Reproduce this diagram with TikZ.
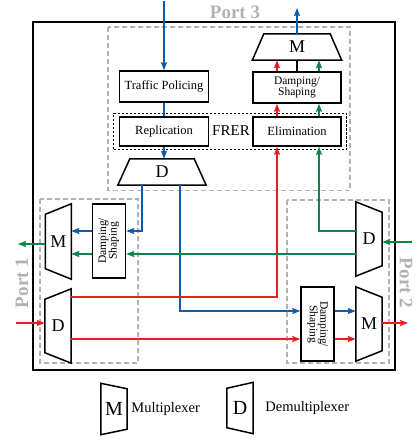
\documentclass[tikz,border=0pt]{standalone}
\usepackage{fontspec}
\setmainfont{Liberation Serif}
\usetikzlibrary{arrows.meta,positioning,fit,calc}

\definecolor{fred}{RGB}{232,30,38}
\definecolor{fblue}{RGB}{18,92,166}
\definecolor{fgreen}{RGB}{12,134,70}
\definecolor{pgray}{RGB}{178,178,178}

\newcommand{\fsz}[1]{\fontsize{#1}{#1}\selectfont}
\newcommand{\dstext}{\begin{tabular}{@{}c@{}}Damping/\\[-1pt]Shaping\end{tabular}}
% trapezoid outlines over a named node
\newcommand{\trapup}[2]{\draw[trap] (#1.south west) -- (#1.south east) -- ([xshift=-#2]#1.north east) -- ([xshift=#2]#1.north west) -- cycle;}
\newcommand{\trapright}[2]{\draw[trap] (#1.north east) -- (#1.south east) -- ([yshift=#2]#1.south west) -- ([yshift=-#2]#1.north west) -- cycle;}
\newcommand{\trapleft}[2]{\draw[trap] (#1.north west) -- (#1.south west) -- ([yshift=#2]#1.south east) -- ([yshift=-#2]#1.north east) -- cycle;}

\begin{document}
\begin{tikzpicture}[
  x=1pt, y=-1pt,
  blk/.style={draw, line width=1.5pt, inner sep=0pt, align=center, font=\fsz{12.5}},
  dsbox/.style={draw, line width=1.5pt, inner sep=0pt, minimum width=33pt, minimum height=74pt, font=\fsz{11.5}},
  letter/.style={inner sep=0pt, font=\fsz{18}},
  trap/.style={line width=1.5pt, line join=miter},
  arr/.style={line width=1.4pt, -{Stealth[length=8pt,width=6pt,inset=1pt]}},
  lne/.style={line width=1.4pt},
  portbox/.style={draw=pgray, line width=1.3pt, dash pattern=on 5pt off 3pt},
  plabel/.style={text=pgray, font=\fsz{19}\bfseries, inner sep=0pt}
]
\useasboundingbox (0,0) rectangle (415,441);

\draw[line width=1.6pt] (33,22) rectangle (395,370);
\draw[portbox] (108,27) rectangle (350,190.5);
\draw[portbox] (40,199) rectangle (138,363);
\draw[portbox] (287,200) rectangle (389,363);

\node[plabel] (p3) at (235,12) {Port 3};
\node[plabel, rotate=90] (p1) at (22,283) {Port 1};
\node[plabel, rotate=-90] (p2) at (406,283) {Port 2};

% port 3
\node[blk, minimum width=89pt, minimum height=31pt] (tp) at (164,86.5) {Traffic Policing};
\node[blk, minimum width=89pt, minimum height=29pt] (rep) at (164,131.5) {Replication};
\node[blk, minimum width=88pt, minimum height=29pt] (eli) at (297,131.5) {Elimination};
\node[blk, minimum width=88pt, minimum height=31pt, font=\fsz{11.5}] (ds3) at (297,87.5) {\dstext};
\node[draw, line width=0.9pt, dash pattern=on 2.5pt off 1.5pt, fit=(rep)(eli), inner xsep=5pt, inner ysep=3pt] (frer) {};
\node[font=\fsz{15}, inner sep=0pt] (frerl) at (231,131) {FRER};
\node[letter, minimum width=89pt, minimum height=26pt] (mux3) at (297,47) {M};
\trapup{mux3}{11.5pt}
\node[letter, minimum width=88pt, minimum height=26pt] (dmx3) at (162,172) {D};
\trapup{dmx3}{12pt}

% port 1
\node[letter, minimum width=25.5pt, minimum height=75pt] (mux1) at (58.3,241.5) {M};
\trapright{mux1}{10.5pt}
\node[letter, minimum width=26pt, minimum height=74pt] (dmx1) at (58,326) {D};
\trapright{dmx1}{10.5pt}
\node[dsbox] (ds1) at (109,241) {\rotatebox{90}{\dstext}};

% port 2
\node[letter, minimum width=26pt, minimum height=74pt] (dmx2) at (369,239) {D};
\trapleft{dmx2}{10.5pt}
\node[letter, minimum width=26pt, minimum height=74pt] (mux2) at (369,324) {M};
\trapleft{mux2}{10.5pt}
\node[dsbox] (ds2) at (317.5,324) {\rotatebox{-90}{\dstext}};

\coordinate (in3) at (164,1);
\coordinate (out3) at (297,8);
\coordinate (out1) at (18,244);
\coordinate (in1) at (16,323);
\coordinate (in2) at (412,242);
\coordinate (out2) at (408,323);

% blue path
\draw[arr, fblue] (in3) -- (tp);
\draw[lne, fblue] (tp) -- (rep);
\draw[arr, fblue] (rep.south) -- (rep.south |- dmx3.north);
\draw[arr, fblue] ([xshift=-20pt]dmx3.south) |- ([yshift=10pt]ds1.east);
\draw[arr, fblue] ([yshift=10pt]ds1.west) -- ([yshift=10pt]ds1.west -| mux1.east);
\draw[arr, fblue] ([xshift=18pt]dmx3.south) |- ([yshift=13pt]ds2.west);
\draw[arr, fblue] ([yshift=13pt]ds2.east) -- ([yshift=13pt]ds2.east -| mux2.west);
\draw[arr, fblue] (mux3) -- (out3);

% red path
\draw[arr, fred] (in1) -- (dmx1.west |- in1);
\draw[arr, fred] ([yshift=29pt]dmx1.east) -| ([xshift=-20pt]eli.south);
\draw[arr, fred] ([yshift=-13pt]dmx1.east) -- ([yshift=-13pt]dmx1.east -| ds2.west);
\draw[arr, fred] ([yshift=-15pt]ds2.east) -- ([yshift=-15pt]ds2.east -| mux2.west);
\draw[arr, fred] (mux2.east |- out2) -- (out2);
\draw[arr, fred] ([xshift=-20pt]eli.north) -- ([xshift=-20pt]eli.north |- ds3.south);
\draw[arr, fred] ([xshift=-20pt]ds3.north) -- ([xshift=-20pt]ds3.north |- mux3.south);

% green path
\draw[arr, fgreen] (in2) -- (dmx2.east |- in2);
\draw[arr, fgreen] ([yshift=8pt]dmx2.west) -| ([xshift=22pt]eli.south);
\draw[arr, fgreen] ([yshift=-15pt]dmx2.west) -- ([yshift=-15pt]dmx2.west -| ds1.east);
\draw[arr, fgreen] ([yshift=-13pt]ds1.west) -- ([yshift=-13pt]ds1.west -| mux1.east);
\draw[arr, fgreen] (mux1.west |- out1) -- (out1);
\draw[arr, fgreen] ([xshift=22pt]eli.north) -- ([xshift=22pt]eli.north |- ds3.south);
\draw[arr, fgreen] ([xshift=22pt]ds3.north) -- ([xshift=22pt]ds3.north |- mux3.south);

\draw[lne] (ds3.north) -- (ds3.north |- mux3.south);

% legend
\node[letter, font=\fsz{20}, minimum width=26pt, minimum height=51pt] (lgm) at (114,409) {M};
\trapleft{lgm}{5.5pt}
\node[right=4pt of lgm, font=\fsz{14.5}, inner sep=0pt] (lgmt) {Multiplexer};
\node[letter, font=\fsz{20}, minimum width=26pt, minimum height=51pt] (lgd) at (240,408) {D};
\trapright{lgd}{6pt}
\node[right=12pt of lgd, font=\fsz{14.5}, inner sep=0pt] (lgdt) {Demultiplexer};
\end{tikzpicture}
\end{document}
